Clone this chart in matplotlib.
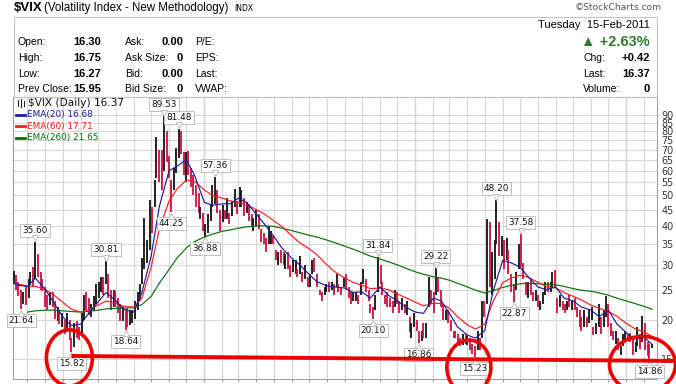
import numpy as np
import pandas as pd
import matplotlib
matplotlib.use("Agg")
import matplotlib.pyplot as plt
import matplotlib.dates as mdates
import matplotlib.transforms as mtransforms
from matplotlib.patches import Ellipse, Rectangle
from matplotlib.lines import Line2D

# === settings ===
W, H = 676, 384
DPI = 100
BAR_BLACK = "#111111"
BAR_RED = "#cc1040"
C_EMA20 = "#1c1c9c"
C_EMA60 = "#ff1a1a"
C_EMA260 = "#0a6e0a"
RING_RED = "#ee0000"

# === data ===
# one bar per 3 trading days from 6-Feb-2008 (high / low / close of the 3 days)
high = np.array([
    28.6, 27.8, 26.5, 25.0, 24.5,
    25.5, 27.0, 28.5, 29.5, 35.60,
    32.5, 28.5, 27.0, 25.5, 24.0,
    24.5, 24.5, 23.0, 22.0, 21.5,
    21.0, 20.0, 21.0, 20.0, 17.5,
    19.5, 19.8, 19.0, 21.0, 24.0,
    24.5, 23.5, 22.5, 23.8, 26.0,
    26.5, 27.5, 27.5, 30.81, 28.0,
    25.0, 25.0, 24.8, 23.5, 22.5,
    22.0, 21.5, 21.8, 21.5, 21.5,
    23.0, 24.5, 26.0, 31.5, 42.2,
    36.0, 48.4, 46.0, 56.0, 76.9,
    70.0, 70.0, 89.53, 80.0, 67.0,
    56.0, 61.0, 71.0, 81.48, 80.5,
    69.0, 69.0, 69.5, 61.0, 58.0,
    54.0, 51.0, 46.0, 44.0, 40.5,
    43.5, 47.0, 54.0, 57.36, 52.0,
    45.0, 46.5, 45.0, 49.0, 44.0,
    48.0, 52.6, 48.0, 53.0, 52.0,
    49.0, 47.5, 47.0, 43.5, 42.5,
    45.0, 43.5, 39.0, 38.0, 36.5,
    40.0, 38.5, 37.0, 33.5, 33.0,
    33.5, 33.0, 32.5, 33.0, 30.0,
    31.0, 31.0, 29.0, 32.0, 28.5,
    30.0, 27.5, 28.0, 31.0, 31.5,
    28.0, 25.0, 24.5, 25.5, 26.0,
    26.5, 26.5, 26.0, 28.0, 26.0,
    25.5, 27.5, 28.0, 25.5, 24.5,
    24.5, 24.5, 24.0, 26.5, 29.0,
    27.0, 25.0, 22.5, 22.0, 24.0,
    31.84, 30.0, 26.5, 24.0, 24.5,
    23.5, 23.0, 25.0, 24.5, 23.0,
    23.5, 22.5, 23.0, 20.5, 19.5,
    21.0, 20.0, 18.5, 18.5, 19.5,
    19.5, 27.5, 25.0, 24.5, 29.22,
    27.5, 25.0, 22.5, 21.5, 21.5,
    20.0, 18.5, 18.5, 18.0, 17.5,
    18.0, 18.0, 17.8, 17.5, 16.8,
    16.5, 18.5, 17.5, 23.0, 23.0,
    42.15, 41.0, 33.0, 36.0, 48.20,
    41.0, 37.0, 36.0, 36.5, 33.5,
    28.0, 26.0, 28.5, 35.0, 37.58,
    30.5, 26.5, 26.5, 27.0, 24.5,
    25.0, 24.0, 23.0, 24.5, 26.5,
    26.5, 26.5, 28.5, 28.9, 23.5,
    24.0, 23.0, 22.5, 23.0, 24.0,
    23.0, 23.5, 22.0, 21.5, 20.5,
    21.5, 20.5, 21.5, 22.0, 19.0,
    19.5, 22.5, 20.5, 21.5, 23.8,
    22.5, 19.5, 18.5, 18.5, 17.5,
    16.5, 18.0, 18.5, 18.0, 18.2,
    17.5, 17.0, 19.0, 18.0, 20.6,
    19.5, 17.0, 16.8, 16.75,
])
low = np.array([
    26.0, 25.0, 23.8, 21.64, 22.5,
    22.3, 23.5, 25.8, 25.5, 27.0,
    27.5, 25.0, 24.8, 22.0, 21.5,
    22.3, 22.0, 20.2, 19.8, 19.4,
    19.0, 18.0, 18.4, 17.3, 15.82,
    16.4, 17.5, 17.3, 18.2, 20.0,
    21.5, 20.8, 20.5, 21.4, 22.5,
    23.5, 24.5, 24.0, 26.0, 23.5,
    21.5, 22.0, 22.0, 21.0, 19.8,
    19.8, 18.64, 19.0, 19.3, 19.6,
    20.2, 21.5, 23.0, 26.0, 29.0,
    30.5, 33.5, 38.0, 46.0, 57.0,
    55.0, 52.0, 60.0, 64.0, 57.0,
    44.25, 52.0, 59.0, 66.0, 68.0,
    58.0, 55.0, 58.0, 53.0, 50.0,
    46.0, 44.0, 42.0, 38.5, 36.88,
    38.0, 41.5, 46.0, 47.0, 44.0,
    38.5, 41.0, 42.0, 42.0, 40.5,
    43.0, 46.0, 43.5, 46.0, 46.0,
    43.0, 44.0, 41.5, 39.5, 38.5,
    40.0, 39.0, 35.5, 35.0, 33.0,
    35.0, 35.0, 35.0, 31.0, 30.0,
    30.5, 30.0, 29.0, 29.0, 27.5,
    28.5, 28.0, 27.5, 28.0, 26.5,
    27.0, 25.5, 25.5, 28.0, 28.5,
    25.5, 24.0, 23.0, 24.0, 24.5,
    24.5, 25.0, 24.0, 25.5, 24.5,
    24.0, 25.5, 25.0, 23.5, 22.5,
    23.0, 23.0, 22.5, 24.0, 26.0,
    24.5, 23.0, 21.0, 20.10, 21.5,
    24.5, 26.0, 24.0, 22.5, 22.0,
    22.0, 21.0, 22.0, 22.5, 21.0,
    21.5, 21.0, 20.8, 18.3, 17.5,
    19.0, 18.5, 16.86, 17.2, 17.5,
    17.5, 22.0, 22.5, 21.0, 24.0,
    24.5, 22.0, 20.0, 20.0, 19.5,
    18.5, 17.5, 17.5, 16.8, 16.5,
    16.6, 16.8, 16.7, 16.0, 15.6,
    15.23, 16.0, 16.0, 17.5, 20.5,
    22.5, 25.5, 24.0, 27.0, 35.0,
    32.0, 32.0, 29.0, 31.0, 28.0,
    24.5, 22.87, 25.0, 29.0, 29.5,
    27.0, 24.0, 23.5, 24.0, 23.0,
    23.0, 22.0, 21.5, 22.5, 24.0,
    24.5, 24.5, 25.5, 25.5, 21.0,
    22.0, 21.5, 21.0, 21.5, 22.0,
    21.5, 21.5, 20.5, 19.0, 18.5,
    19.0, 19.0, 19.5, 20.0, 17.9,
    18.0, 19.0, 18.0, 19.0, 20.5,
    19.0, 17.8, 17.3, 16.8, 16.0,
    15.5, 16.5, 17.0, 17.2, 17.0,
    15.5, 15.8, 16.5, 16.2, 17.0,
    16.0, 15.4, 14.86, 16.27,
])
close = np.array([
    27.5, 25.5, 24.5, 23.0, 24.0,
    23.2, 26.5, 27.8, 26.0, 32.2,
    29.8, 25.8, 25.7, 22.5, 22.4,
    23.8, 23.0, 20.4, 21.0, 19.6,
    20.8, 18.2, 20.5, 17.6, 16.5,
    18.6, 18.0, 17.8, 20.3, 23.5,
    23.0, 21.2, 21.6, 22.7, 23.9,
    25.8, 26.1, 25.0, 28.5, 24.0,
    22.0, 24.5, 22.9, 21.2, 20.7,
    21.2, 20.5, 20.0, 20.5, 20.6,
    21.8, 22.6, 24.4, 30.3, 32.1,
    35.7, 46.7, 45.3, 53.7, 69.9,
    69.3, 52.9, 79.1, 66.0, 59.9,
    54.6, 56.0, 66.3, 80.9, 72.7,
    60.9, 68.5, 59.9, 57.3, 54.3,
    49.8, 44.9, 45.0, 39.2, 39.2,
    43.4, 45.8, 51.0, 56.6, 47.3,
    39.0, 45.5, 43.0, 48.0, 41.3,
    46.9, 52.6, 44.7, 46.4, 49.3,
    45.2, 47.4, 42.9, 40.4, 42.0,
    42.3, 40.9, 36.5, 36.2, 33.9,
    37.0, 37.9, 36.5, 31.4, 32.1,
    31.4, 30.2, 31.3, 29.0, 28.9,
    29.8, 29.8, 28.0, 30.8, 27.0,
    27.7, 26.3, 27.9, 30.8, 29.0,
    25.9, 24.4, 23.4, 25.1, 25.9,
    25.0, 26.0, 24.7, 26.0, 25.0,
    24.5, 26.0, 25.3, 24.0, 23.0,
    23.4, 24.0, 23.0, 25.6, 28.7,
    25.0, 23.1, 21.7, 21.0, 23.9,
    30.7, 27.5, 24.6, 23.0, 22.9,
    22.2, 21.1, 23.5, 23.0, 21.3,
    22.7, 21.5, 22.3, 18.5, 19.0,
    20.5, 19.0, 17.6, 18.0, 17.9,
    18.7, 25.4, 23.7, 22.3, 26.1,
    26.0, 22.7, 20.0, 20.6, 19.5,
    18.8, 17.8, 17.6, 17.1, 16.9,
    17.6, 17.0, 17.2, 16.5, 16.1,
    15.6, 17.3, 16.3, 22.8, 22.1,
    40.9, 28.7, 31.2, 35.0, 45.8,
    34.0, 35.9, 29.5, 33.7, 28.8,
    25.9, 24.9, 27.7, 34.1, 30.1,
    27.3, 24.4, 25.4, 24.9, 23.5,
    24.8, 22.0, 22.2, 24.0, 26.2,
    25.6, 25.7, 26.7, 26.1, 21.3,
    23.8, 22.0, 21.7, 22.5, 22.0,
    22.0, 21.9, 20.9, 19.9, 19.1,
    20.1, 19.9, 20.7, 21.6, 18.3,
    19.0, 20.2, 18.8, 20.6, 23.5,
    19.4, 18.0, 17.6, 17.9, 16.1,
    16.2, 17.6, 17.8, 17.6, 17.1,
    16.0, 16.4, 17.0, 16.5, 20.0,
    16.7, 16.0, 15.95, 16.37,
])

# moving averages, on the 1st and 15th of each month
ema20 = [
    26.5, 25.8, 25.6, 27.2, 25.0, 22.8, 20.5, 19.2, 19.4, 21.0, 22.8, 24.5,
    23.0, 21.6, 21.2, 24.5, 32.0, 46.0, 60.0, 62.0, 65.0, 58.0,
    47.5, 46.5, 47.0, 47.0, 49.0, 47.5, 43.5, 40.5, 37.0, 34.0, 31.5, 30.0,
    28.0, 26.5, 25.7, 25.5, 25.3, 24.5, 24.6, 23.5, 25.5, 24.0, 23.0, 22.0,
    21.2, 21.0, 23.5, 23.0, 21.0, 19.0, 17.9, 17.5, 18.5, 24.5, 31.0, 30.5,
    29.5, 27.5, 25.5, 25.0, 25.5, 23.5, 23.0, 22.0, 21.5, 20.5, 21.5, 19.5,
    18.2, 17.4, 17.6, 16.68,
]
ema60 = [
    26.2, 26.0, 25.7, 25.6, 25.0, 24.1, 22.8, 21.7, 21.2, 21.5, 22.3, 23.0,
    22.6, 22.1, 22.0, 23.5, 29.5, 39.0, 48.0, 52.5, 56.0, 55.5,
    52.0, 50.0, 49.0, 48.0, 47.5, 46.8, 45.0, 43.6, 41.5, 39.8, 37.2, 35.3,
    33.8, 32.3, 30.0, 28.5, 27.2, 26.4, 25.8, 25.2, 25.3, 25.0, 24.2, 23.6,
    22.8, 22.2, 22.6, 22.6, 21.8, 20.5, 19.3, 18.7, 19.4, 22.8, 26.3, 27.2,
    27.8, 27.4, 26.4, 25.6, 25.3, 24.5, 23.8, 23.2, 22.3, 21.8, 21.3, 20.6,
    19.5, 18.8, 18.3, 17.71,
]
ema260 = [
    21.2, 21.4, 21.5, 21.5, 21.4, 21.3, 21.2, 21.3, 21.5, 21.7,
    21.8, 21.8, 21.9, 22.4, 23.8, 26.2, 29.0, 31.6, 34.0, 35.6,
    36.8, 37.6, 38.4, 38.8, 39.3, 39.7, 39.9, 40.0, 39.8, 39.3, 38.6, 38.0,
    37.3, 36.8, 36.0, 35.3, 34.4, 33.7, 32.8, 32.0, 31.3, 30.7, 30.0, 29.3,
    28.5, 28.0, 27.5, 27.2, 26.8, 26.2, 25.5, 24.9, 24.4, 24.8, 25.4, 25.8,
    26.1, 26.2, 26.1, 26.0, 25.9, 25.6, 25.2, 24.9, 24.7, 24.4, 24.0, 23.5,
    23.0, 22.6, 22.1, 21.65,
]

peak_labels = [35.60, 30.81, 89.53, 81.48, 57.36, 31.84, 29.22, 48.20, 37.58]
low_labels = [21.64, 15.82, 18.64, 44.25, 36.88, 20.10, 16.86, 15.23, 22.87, 14.86]
circled_lows = [15.82, 15.23, 14.86]

y_ticks = [15, 20, 25, 30, 35, 40, 45, 50, 55, 60, 65, 70, 75, 80, 85, 90]

quote_left = ["Open:", "High:", "Low:", "Prev Close:"]
quote_left_vals = ["16.30", "16.75", "16.27", "15.95"]
quote_mid = ["Ask:", "Ask Size:", "Bid:", "Bid Size:"]
quote_mid_vals = ["0.00", "0", "0.00", "0"]
quote_misc = ["P/E:", "EPS:", "Last:", "VWAP:"]
quote_right = ["Chg:", "Last:", "Volume:"]
quote_right_vals = ["+0.42", "16.37", "0"]

dates = pd.bdate_range("2008-02-06", periods=3 * len(high))[::3]
ema_dates = pd.date_range("2008-02-01", periods=len(ema20), freq="SMS")
ema260_dates = pd.date_range("2008-03-01", periods=len(ema260), freq="SMS")


def fx(x):
    return x / W


def fy(y):
    return 1 - y / H


fig = plt.figure(figsize=(W / DPI, H / DPI), dpi=DPI)
fig.patch.set_facecolor("white")

# plot area: 13..657 px wide, 97..379 px tall
ax = fig.add_axes([fx(13), fy(379), fx(657) - fx(13), fy(97) - fy(379)])
ax.set_yscale("log")
ax.set_ylim(12.96, 103.1)
ax.set_xlim(pd.Timestamp("2008-02-05"), pd.Timestamp("2011-02-23"))

# grid
ax.xaxis.set_major_locator(mdates.MonthLocator())
ax.yaxis.set_major_locator(matplotlib.ticker.FixedLocator(y_ticks))
ax.yaxis.set_minor_locator(matplotlib.ticker.NullLocator())
ax.yaxis.set_major_formatter(matplotlib.ticker.FixedFormatter([str(v) for v in y_ticks]))
ax.grid(True, color="#d6d6d6", lw=0.8, zorder=0)
for yr in ["2009-01-01", "2010-01-01", "2011-01-01"]:
    ax.axvline(pd.Timestamp(yr), color="#b4b4b4", lw=0.9, zorder=0.5)
ax.set_axisbelow(True)
ax.yaxis.tick_right()
ax.tick_params(axis="y", length=0, pad=3, labelsize=6.9, labelcolor="#333333")
ax.tick_params(axis="x", length=2.5, color="#999999", labelbottom=False, direction="out")
for s in ax.spines.values():
    s.set_color("#a0a0a0")
    s.set_linewidth(0.8)

# price bars: red when the close is below the previous close
prev = np.concatenate([[close[0]], close[:-1]])
cols = np.where(close < prev, BAR_RED, BAR_BLACK)
ax.vlines(dates, low, high, colors=cols, lw=1.3, zorder=3)

# moving averages
ax.plot(ema260_dates, ema260, color=C_EMA260, lw=0.85, zorder=4)
ax.plot(ema_dates, ema60, color=C_EMA60, lw=0.85, zorder=4)
ax.plot(ema_dates, ema20, color=C_EMA20, lw=0.85, zorder=5)


# value tags on peaks and troughs
def tag(d, v, above):
    sgn = 1 if above else -1
    ax.annotate(f"{v:.2f}", (d, v), xytext=(0, sgn * 8.3), textcoords="offset points",
                ha="center", va="center", fontsize=6.4, color="#111111",
                bbox=dict(boxstyle="square,pad=0.22", fc="white", ec="#bdbdbd", lw=0.7),
                zorder=7, annotation_clip=False)
    tr = mtransforms.offset_copy(ax.transData, fig=fig, x=0, y=sgn * 2.6, units="points")
    ax.plot([mdates.date2num(d)], [v], marker="v" if above else "^", ms=4,
            mfc="white", mec="#bdbdbd", mew=0.7, transform=tr, zorder=8, clip_on=False)


for v in peak_labels:
    i = int(np.argmin(np.abs(high - v)))
    tag(dates[i], v, True)
for v in low_labels:
    i = int(np.argmin(np.abs(low - v)))
    tag(dates[i], v, False)

# hand drawn red marks: rings round the three lows and the support line
ring_px = [(46, 56, -2, 6), (44, 54, -6, 10), (66, 56, -7, 4)]
for v, (w, h, dx, dy) in zip(circled_lows, ring_px):
    i = int(np.argmin(np.abs(low - v)))
    tr = fig.dpi_scale_trans + mtransforms.ScaledTranslation(
        mdates.date2num(dates[i]), v, ax.transData)
    fig.add_artist(Ellipse((dx / DPI, -dy / DPI), w / DPI, h / DPI, transform=tr,
                           fill=False, ec=RING_RED, lw=2.6, zorder=10))

i0 = int(np.argmin(np.abs(low - circled_lows[0])))
line_end = dates[-1] + pd.Timedelta(days=45)
ax.add_line(Line2D([dates[i0], line_end], [15.35, 14.8], color=RING_RED, lw=2.8,
                   clip_on=False, zorder=9, solid_capstyle="butt"))

# legend block inside the plot
fig.add_artist(Line2D([fx(18), fx(18)], [fy(100), fy(106)], color="#222", lw=0.8))
fig.add_artist(Line2D([fx(21), fx(21)], [fy(99), fy(107)], color="#222", lw=0.8))
fig.add_artist(Line2D([fx(24), fx(24)], [fy(101), fy(106)], color="#222", lw=0.8))
fig.text(fx(28), fy(103), f"$VIX (Daily) {close[-1]:.2f}", fontsize=7.6, va="center", color="#111")
legend_rows = [(f"EMA(20) {ema20[-1]:.2f}", C_EMA20, 114.5),
               (f"EMA(60) {ema60[-1]:.2f}", C_EMA60, 126),
               (f"EMA(260) {ema260[-1]:.2f}", C_EMA260, 137.5)]
for txt, c, y in legend_rows:
    fig.add_artist(Line2D([fx(16), fx(25)], [fy(y), fy(y)], color=c, lw=2))
    fig.text(fx(27), fy(y), txt, fontsize=6.4, va="center", color=c)

# header
hdr = ["Liberation Sans", "DejaVu Sans"]
fig.text(fx(14), fy(8), "$VIX", fontsize=9.5, fontweight="bold", family=hdr, va="center")
fig.text(fx(44), fy(8.5), "(Volatility Index - New Methodology)", fontsize=8.3, family=hdr, va="center")
fig.text(fx(234), fy(8.5), "INDX", fontsize=5.5, family="DejaVu Sans", va="center")
fig.text(fx(662), fy(8), "\u00a9StockCharts.com", fontsize=6.6, family="DejaVu Sans",
         color="#555555", ha="right", va="center")
fig.add_artist(Rectangle((fx(14), fy(97)), fx(657) - fx(14), fy(17) - fy(97),
                         transform=fig.transFigure, fill=False, ec="#c4c4c4", lw=0.8))

rows_y = [42, 58, 74, 89]
for y, a, b, c, d, e in zip(rows_y, quote_left, quote_left_vals, quote_mid, quote_mid_vals, quote_misc):
    fig.text(fx(18), fy(y), a, fontsize=7.5, family=hdr, va="center")
    fig.text(fx(101), fy(y), b, fontsize=8, family=hdr, fontweight="bold", ha="right", va="center")
    fig.text(fx(125), fy(y), c, fontsize=7.5, family=hdr, va="center")
    fig.text(fx(183), fy(y), d, fontsize=8, family=hdr, fontweight="bold", ha="right", va="center")
    fig.text(fx(195), fy(y), e, fontsize=7.5, family=hdr, va="center")

fig.text(fx(650), fy(25), "Tuesday  15-Feb-2011", fontsize=8, family=hdr, ha="right", va="center")
fig.text(fx(650), fy(42), "\u25b2 +2.63%", fontsize=10.5, family=hdr, fontweight="bold",
         color="#2f7a2f", ha="right", va="center")
for y, a, b in zip(rows_y[1:], quote_right, quote_right_vals):
    fig.text(fx(583), fy(y), a, fontsize=7.5, family=hdr, va="center")
    fig.text(fx(650), fy(y), b, fontsize=8, family=hdr, fontweight="bold", ha="right", va="center")

fig.savefig("out.png", dpi=DPI, facecolor="white")
